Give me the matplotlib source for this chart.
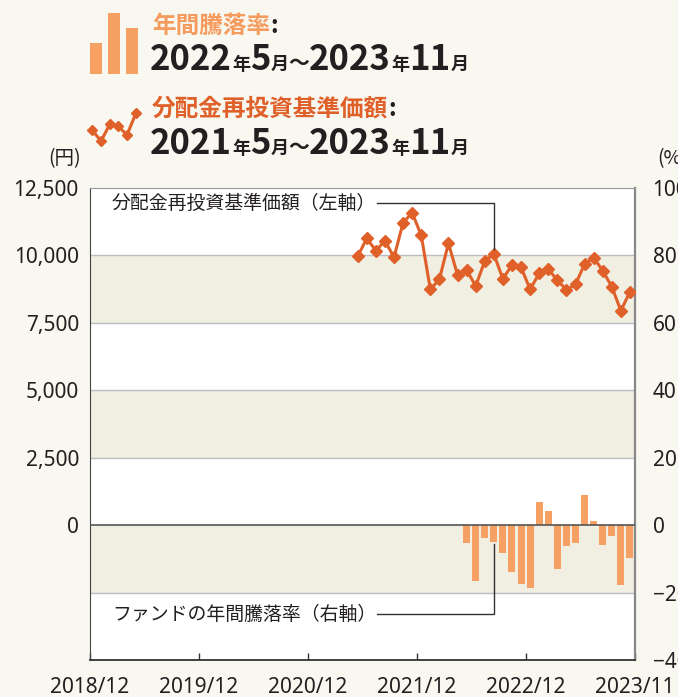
import numpy as np
import pandas as pd
import matplotlib
matplotlib.use("Agg")
import matplotlib.pyplot as plt
from matplotlib.patches import Rectangle
from matplotlib.lines import Line2D

plt.rcParams['font.family'] = ['Noto Sans', 'Noto Sans CJK JP', 'DejaVu Sans']
CJK = ['Noto Sans CJK JP', 'DejaVu Sans']

# 分配金再投資基準価額 (円), 2021/5 - 2023/11
nav_start, nav_end = '2021-05', '2023-11'
nav = [9967, 10634, 10175, 10545, 9929, 11213, 11583, 10745, 8742, 9113,
       10449, 9273, 9458, 8865, 9792, 10052, 9125, 9656, 9557, 8742,
       9335, 9483, 9087, 8716, 8927, 9681, 9915, 9433, 8840, 7949, 8655]

# 年間騰落率 (%), 2022/5 - 2023/11
ret_start, ret_end = '2022-05', '2023-11'
ret = [-5.2, -16.5, -3.8, -5.0, -8.2, -13.9, -17.4, -18.6, 6.8, 4.2,
       -13.0, -6.1, -5.2, 8.9, 1.2, -5.8, -3.2, -17.7, -9.7]

axis_start = pd.Period('2018-12', 'M')
xtick_labels = ['2018/12', '2019/12', '2020/12', '2021/12', '2022/12', '2023/11']
yen_ticks = [0, 2500, 5000, 7500, 10000, 12500]
pct_ticks = [-40, -20, 0, 20, 40, 60, 80, 100]

BG = '#f8f7f0'
BAND = '#f1eee2'
BAR = '#f7a064'
LINE = '#e0602a'
TXT = '#231f20'

W, H = 678, 697
fig = plt.figure(figsize=(W / 100, H / 100), dpi=100, facecolor=BG)


def fx(x):
    return x / W


def fy(y):
    return 1 - y / H


ax = fig.add_axes([fx(90), fy(660), fx(634.5) - fx(90), fy(188) - fy(660)])
ax.set_facecolor('white')
ax2 = ax.twinx()

def month_x(start, n):
    p0 = pd.Period(start, 'M')
    return np.array([(p0 - axis_start).n + k + 0.5 for k in range(n)])

nav_x = month_x(nav_start, len(nav))
ret_x = month_x(ret_start, len(ret))

ax.set_xlim(0, 60)
ax.set_ylim(-5000, 12500)
ax2.set_ylim(-40, 100)

for lo in (7500, 2500, -2500):
    ax.axhspan(lo, lo + 2500, color=BAND, lw=0, zorder=0)
for g in (10000, 7500, 5000, 2500, -2500):
    ax.axhline(g, color='#bdbdbd', lw=1, zorder=1)

ax.plot(nav_x, nav, color=LINE, lw=2.2, marker='D', ms=6, zorder=4)
ax2.bar(ret_x, ret, width=0.77, color=BAR, zorder=2)
ax2.axhline(0, color='#555555', lw=1.2, zorder=3)

# ticks
ax.set_xticks(np.arange(0, 61, 12))
ax.set_xticklabels(xtick_labels, fontsize=15, color=TXT)
ax.tick_params(axis='x', direction='in', length=5, width=1, color='#333333', pad=12)
ax.set_yticks(yen_ticks)
ax.set_yticklabels([f'{v:,}' for v in yen_ticks], fontsize=15, color=TXT)
ax.tick_params(axis='y', length=0, pad=8)
ax2.set_yticks(pct_ticks)
ax2.set_yticklabels([f'{v}'.replace('-', '\u2212') for v in pct_ticks], fontsize=15, color=TXT)
ax2.tick_params(axis='y', length=0, pad=13)

for s in ax2.spines.values():
    s.set_visible(False)
ax.spines['left'].set_color('#444444')
ax.spines['bottom'].set_color('#333333')
ax.spines['bottom'].set_linewidth(1.3)
ax.spines['top'].set_color('#999999')
ax.spines['right'].set_color('#888888')
ax.spines['right'].set_linewidth(1.6)

renderer = fig.canvas.get_renderer()
to_data = ax.transData.inverted()


def text_end_x(t, gap=1):
    bb = t.get_window_extent(renderer)
    return to_data.transform((bb.x1 + gap, bb.y0))[0]


# annotations
i_nav = 15
lx = nav_x[i_nav]
t1 = ax.text(2.4, 11944, '分配金再投資基準価額（左軸）', fontsize=13.6, color=TXT,
             family=CJK, va='center', ha='left', zorder=5)
ax.plot([text_end_x(t1), lx, lx], [11944, 11944, nav[i_nav] + 180], color='#333333', lw=1, zorder=5)

i_ret = 3
rx = ret_x[i_ret]
t2 = ax.text(2.4, -3301, 'ファンドの年間騰落率（右軸）', fontsize=13.6, color=TXT,
             family=CJK, va='center', ha='left', zorder=5)
ax.plot([text_end_x(t2), rx, rx], [-3301, -3301, ret[i_ret] * 125 - 80], color='#333333', lw=1, zorder=5)

# unit labels
fig.text(fx(81), fy(159), '(円)', fontsize=14, color=TXT, family=CJK, ha='right', va='center')
fig.text(fx(657), fy(159), '(%)', fontsize=14, color=TXT, family=CJK, ha='left', va='center')

# header legend
for x0, top in ((90, 43), (108, 13), (126, 28)):
    fig.patches.append(Rectangle((fx(x0), fy(74)), fx(12), fy(top) - fy(74),
                                 transform=fig.transFigure, color=BAR, lw=0))
icon_x = [92, 101, 110, 118, 127, 136]
icon_y = [130, 141, 124, 126, 135, 113]
fig.lines.append(Line2D([fx(v) for v in icon_x], [fy(v) for v in icon_y],
                        transform=fig.transFigure, color=LINE, lw=2.2,
                        marker='D', ms=5))


def runs(x, y, parts):
    for s, size, color in parts:
        t = fig.text(fx(x), fy(y), s, fontsize=size, color=color, fontweight='bold',
                     family=CJK, ha='left', va='baseline')
        x += t.get_window_extent(renderer).width


big, small = 25, 13
runs(152, 33, [('年間騰落率', 17, '#f59b5e'), (':', 17, TXT)])
runs(150, 70, [('2022', big, TXT), ('年', small, TXT), ('5', big, TXT), ('月', small, TXT),
               ('～', 15, TXT), ('2023', big, TXT), ('年', small, TXT), ('11', big, TXT),
               ('月', small, TXT)])
runs(152, 116, [('分配金再投資基準価額', 17, LINE), (':', 17, TXT)])
runs(150, 154, [('2021', big, TXT), ('年', small, TXT), ('5', big, TXT), ('月', small, TXT),
                ('～', 15, TXT), ('2023', big, TXT), ('年', small, TXT), ('11', big, TXT),
                ('月', small, TXT)])

fig.savefig('out.png', dpi=100, facecolor=BG)
